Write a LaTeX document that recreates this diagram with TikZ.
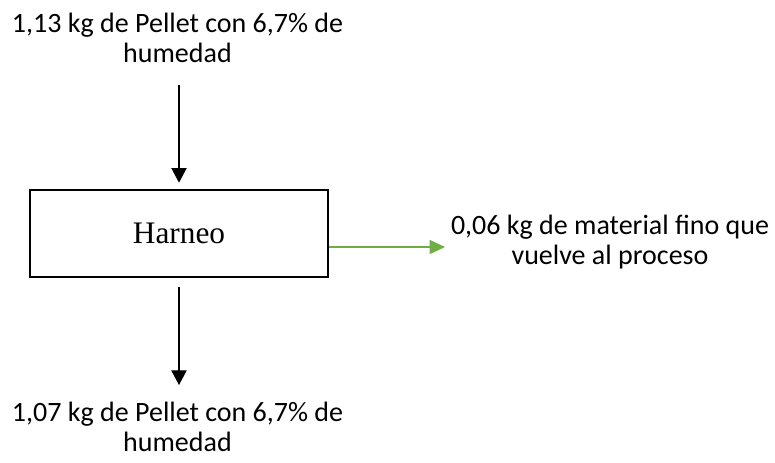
\documentclass[tikz,border=0pt]{standalone}
\usepackage{fontspec}
\setmainfont{Carlito}
\newfontfamily\timesf{Liberation Serif}
\usetikzlibrary{arrows.meta}
\definecolor{offgreen}{HTML}{70AD47}
\begin{document}
\begin{tikzpicture}[x=0.75pt,y=-0.75pt,
  lbl/.style={align=center,inner sep=0pt,font=\fontsize{21}{22.5}\selectfont},
  procbox/.style={draw,line width=2pt,minimum width=223.5pt,minimum height=65.25pt,inner sep=0pt,font=\timesf\fontsize{23.5}{27}\selectfont},
  blackarr/.style={line width=0.8pt,-{Triangle[length=11pt,width=11.5pt]}},
  greenarr/.style={draw=offgreen,line width=1.1pt,-{Triangle[length=11.5pt,width=10.5pt]},color=offgreen}]
\useasboundingbox (0,0) rectangle (775,462);
\node[lbl] (top) at (177.5,38) {1,13 kg de Pellet con 6,7\% de\\humedad};
\node[procbox] (box) at (179,233.5) {Harneo};
\node[lbl] (right) at (610,242) {0,06 kg de material fino que\\vuelve al proceso};
\node[lbl] (bottom) at (177.5,427) {1,07 kg de Pellet con 6,7\% de\\humedad};
\coordinate (tstart) at (179,85);
\coordinate (gend) at (445,247);
\draw[blackarr,shorten >=4.5pt] (tstart) -- (box.north);
\draw[blackarr,shorten <=6.75pt] (box.south) -- (box.south |- 0,385);
\draw[greenarr] (box.east |- gend) -- (gend);
\end{tikzpicture}
\end{document}
